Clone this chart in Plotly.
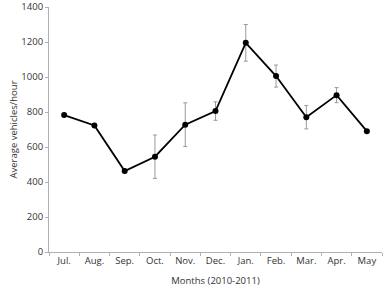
import plotly.graph_objects as go

months = ["Jul.", "Aug.", "Sep.", "Oct.", "Nov.", "Dec.", "Jan.", "Feb.", "Mar.", "Apr.", "May"]
vehicles = [783, 724, 463, 545, 728, 806, 1196, 1006, 771, 897, 691]
errors = [0, 0, 0, 124, 125, 53, 105, 63, 67, 43, 0]
y_ticks = [0, 200, 400, 600, 800, 1000, 1200, 1400]

font_family = "Open Sans, Lato, sans-serif"

fig = go.Figure()
fig.add_trace(go.Scatter(
    x=months, y=vehicles, mode="lines+markers",
    line=dict(color="black", width=1.8),
    marker=dict(color="black", size=6),
    error_y=dict(type="data", array=errors, visible=True, color="#999999", thickness=1, width=2),
    showlegend=False,
))

fig.update_layout(
    width=389, height=294,
    margin=dict(l=49, r=7, t=7, b=42),
    plot_bgcolor="white", paper_bgcolor="white",
    font=dict(family=font_family, size=10, color="#333333"),
)
fig.update_xaxes(
    type="category", range=[-0.5, 10.5],
    showline=True, linecolor="#b0b0b0", linewidth=1,
    ticks="outside", tickson="boundaries", ticklen=3, tickcolor="#b0b0b0",
    showgrid=False, zeroline=False, tickangle=0, automargin=False,
    tickfont=dict(size=9.5),
    title=dict(text="Months (2010-2011)", font=dict(size=9.5), standoff=10),
)
fig.update_yaxes(
    range=[0, 1401], tickvals=y_ticks,
    showline=True, linecolor="#b0b0b0", linewidth=1,
    ticks="outside", ticklen=3, tickcolor="#b0b0b0",
    showgrid=False, zeroline=False, automargin=False,
    tickfont=dict(size=9.5),
    title=dict(text="Average vehicles/hour", font=dict(size=9.5), standoff=2),
)

fig.write_html(
    "out.html",
    config={"displayModeBar": False},
    post_script="document.body.style.margin='0';document.body.style.padding='0';",
)
